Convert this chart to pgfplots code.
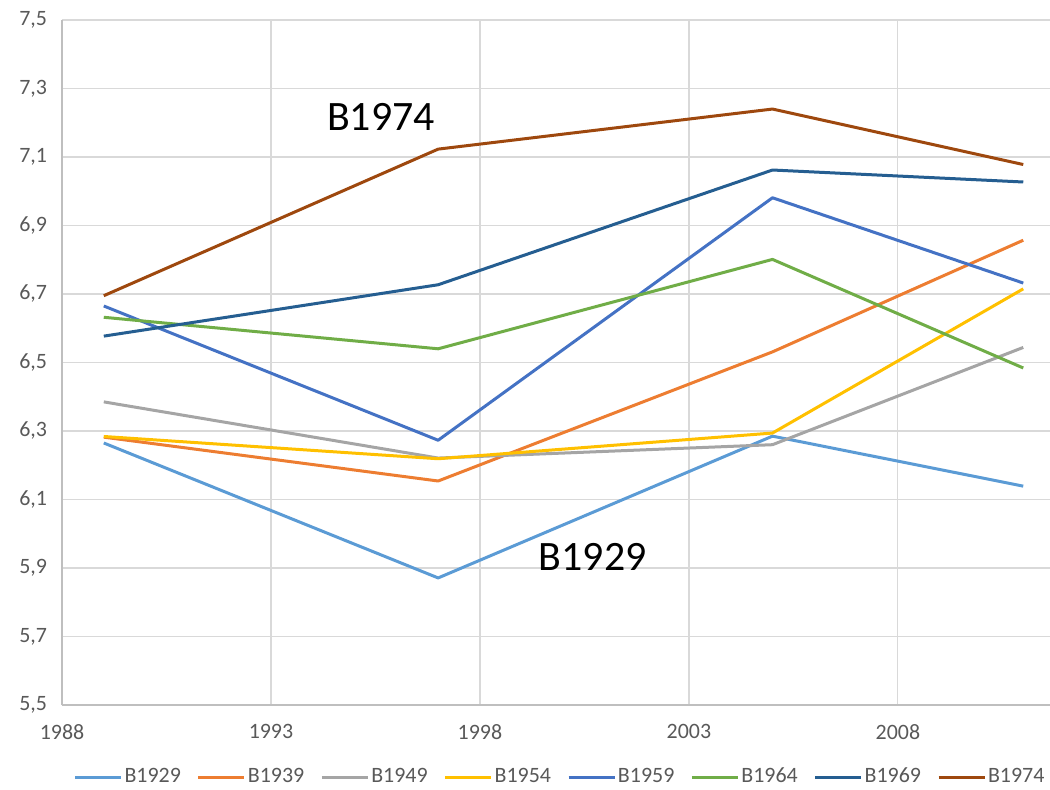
\documentclass[border=0pt]{standalone}
\usepackage{pgfplots}
\pgfplotsset{compat=1.18}
\usepackage{fontspec}
\setmainfont{Carlito}
\definecolor{c1}{HTML}{5B9BD5}
\definecolor{c2}{HTML}{ED7D31}
\definecolor{c3}{HTML}{A5A5A5}
\definecolor{c4}{HTML}{FFC000}
\definecolor{c5}{HTML}{4472C4}
\definecolor{c6}{HTML}{70AD47}
\definecolor{c7}{HTML}{255E91}
\definecolor{c8}{HTML}{9E480E}
\definecolor{tickgray}{HTML}{595959}
\definecolor{gridgray}{HTML}{D9D9D9}
\definecolor{axgray}{HTML}{BFBFBF}
\begin{document}
\begin{tikzpicture}
\begin{axis}[
  name=ax,
  scale only axis,
  width=494bp, height=342.5bp,
  xmin=1988, xmax=2011.64,
  ymin=5.5, ymax=7.5,
  xtick={1988,1993,1998,2003,2008},
  ytick={5.5,5.7,5.9,6.1,6.3,6.5,6.7,6.9,7.1,7.3,7.5},
  xmajorgrids, ymajorgrids,
  grid style={gridgray, line width=0.6bp},
  axis x line*=bottom, axis y line*=left,
  axis line style={axgray, line width=1bp, -},
  major tick length=0pt,
  tick label style={font=\fontsize{11}{13}\selectfont, text=tickgray},
  /pgf/number format/assume math mode=true,
  xticklabel style={/pgf/number format/1000 sep={}, /pgf/number format/fixed, /pgf/number format/precision=0, yshift=-6bp},
  yticklabel style={/pgf/number format/use comma, /pgf/number format/fixed, /pgf/number format/fixed zerofill, /pgf/number format/precision=1, xshift=-4bp},
  clip=false,
  legend columns=8,
  legend style={at={(0.5,0)}, anchor=center, xshift=2bp, yshift=-36bp, draw=none,
    font=\fontsize{11}{13}\selectfont, text=tickgray,
    nodes={inner xsep=1bp},
    /tikz/every even column/.append style={column sep=7bp}},
  legend image code/.code={\draw[#1, line width=1.5bp] (0bp,0bp) -- (23bp,0bp);},
  every axis plot/.append style={line width=1.5bp, line join=round},
]
\addplot[c1] coordinates {(1989,6.265) (1997,5.871) (2005,6.285) (2011,6.139)};
\addlegendentry{B1929}
\addplot[c2] coordinates {(1989,6.282) (1997,6.154) (2005,6.531) (2011,6.857)};
\addlegendentry{B1939}
\addplot[c3] coordinates {(1989,6.385) (1997,6.221) (2005,6.260) (2011,6.544)};
\addlegendentry{B1949}
\addplot[c4] coordinates {(1989,6.284) (1997,6.219) (2005,6.294) (2011,6.715)};
\addlegendentry{B1954}
\addplot[c5] coordinates {(1989,6.665) (1997,6.273) (2005,6.981) (2011,6.732)};
\addlegendentry{B1959}
\addplot[c6] coordinates {(1989,6.632) (1997,6.540) (2005,6.801) (2011,6.484)};
\addlegendentry{B1964}
\addplot[c7] coordinates {(1989,6.577) (1997,6.727) (2005,7.062) (2011,7.027)};
\addlegendentry{B1969}
\addplot[c8] coordinates {(1989,6.695) (1997,7.123) (2005,7.240) (2011,7.078)};
\addlegendentry{B1974}
\node[font=\fontsize{21}{24}\selectfont, text=black] at (axis cs:1995.63,7.217) {B1974};
\node[font=\fontsize{21}{24}\selectfont, text=black] at (axis cs:2000.7,5.932) {B1929};
\end{axis}
\pgfresetboundingbox
\path ([xshift=-31bp,yshift=-42.5bp]ax.south west) rectangle ([yshift=10bp]ax.north east);
\end{tikzpicture}
\end{document}
